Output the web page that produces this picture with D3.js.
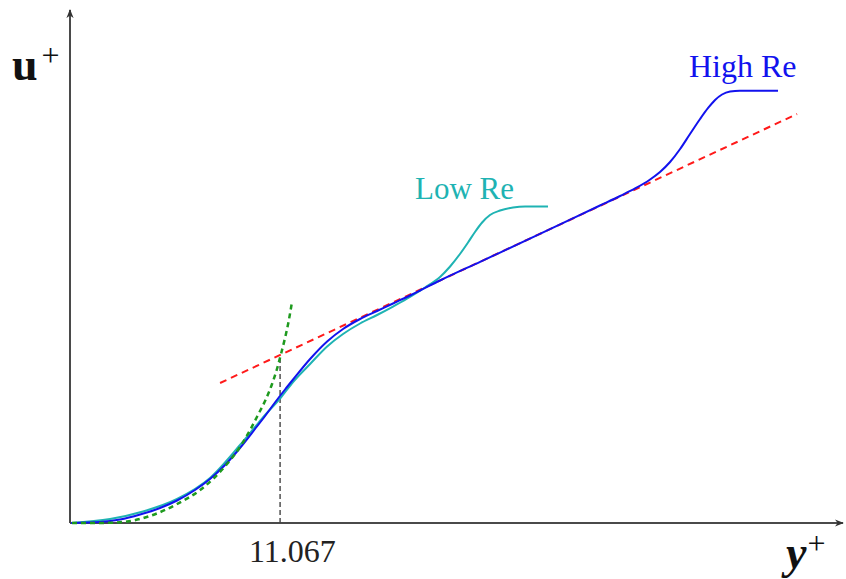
<!DOCTYPE html>
<html>
<head>
<meta charset="utf-8">
<script src="https://cdn.jsdelivr.net/npm/d3@7"></script>
<style>
  html, body { margin: 0; padding: 0; background: #fff; }
  svg { display: block; }
  text { font-family: "Liberation Serif", "DejaVu Serif", serif; }
</style>
</head>
<body>
<svg id="chart" width="846" height="579"></svg>
<script>
// ---- data: x = log10(y+), y = u+ ----
const xDomain = [-0.104, 4.131];
const yDomain = [0, 33.75];

const highRe = [
  [-0.098, 0], [0.060, 0.066], [0.169, 0.230], [0.279, 0.559], [0.388, 0.987],
  [0.481, 1.480], [0.579, 2.171], [0.661, 2.895], [0.743, 3.816], [0.825, 4.934],
  [0.907, 6.184], [0.962, 7.039], [1.016, 7.928], [1.071, 8.783], [1.115, 9.441],
  [1.208, 10.789], [1.301, 11.941], [1.388, 12.763], [1.481, 13.421], [1.574, 13.947],
  [1.661, 14.441], [1.754, 14.967], [1.809, 15.296], [1.918, 15.954], [2.137, 17.184],
  [2.464, 19.020], [2.792, 20.888], [2.902, 21.513], [2.984, 22.007], [3.066, 22.599],
  [3.120, 23.092], [3.175, 23.750], [3.230, 24.605], [3.284, 25.592], [3.339, 26.579],
  [3.383, 27.303], [3.421, 27.829], [3.459, 28.191], [3.503, 28.388], [3.557, 28.441],
  [3.765, 28.441]
];

const lowRe = [
  [-0.098, 0], [0.115, 0.263], [0.295, 0.757], [0.481, 1.579], [0.661, 2.961],
  [0.825, 5.132], [0.907, 6.316], [0.962, 7.105], [1.044, 8.191], [1.115, 9.276],
  [1.208, 10.461], [1.301, 11.612], [1.388, 12.434], [1.481, 13.125], [1.574, 13.684],
  [1.661, 14.243], [1.754, 14.868], [1.836, 15.493], [1.918, 16.184], [1.973, 16.875],
  [2.027, 17.697], [2.071, 18.454], [2.109, 19.145], [2.148, 19.770], [2.191, 20.263],
  [2.246, 20.559], [2.317, 20.757], [2.383, 20.822], [2.508, 20.822]
];

// viscous sublayer u+ = y+ (green dashed)
const linearLaw = [
  [-0.093, 0], [0.060, 0], [0.208, 0.099], [0.333, 0.461], [0.481, 1.250],
  [0.607, 2.171], [0.754, 3.882], [0.825, 5.0], [0.880, 6.118], [0.923, 7.105],
  [0.967, 8.158], [1.000, 9.145], [1.027, 10.132], [1.049, 11.118], [1.071, 12.171],
  [1.090, 13.224], [1.109, 14.539]
];

// log law (red dashed)
const logLaw = [[0.716, 9.211], [3.869, 26.908]];

const yPlusMark = 11.067;
const yPlusMarkU = 11.0;

const labels = { low: "Low Re", high: "High Re", mark: "11.067" };

// ---- drawing ----
const svg = d3.select("#chart");
const x = d3.scaleLinear().domain(xDomain).range([70, 845]);
const y = d3.scaleLinear().domain(yDomain).range([523, 10]);

const defs = svg.append("defs");
defs.append("marker")
  .attr("id", "arrow")
  .attr("viewBox", "0 0 10 10")
  .attr("refX", 9).attr("refY", 5)
  .attr("markerWidth", 4.5).attr("markerHeight", 4.5)
  .attr("markerUnits", "strokeWidth")
  .attr("orient", "auto")
  .append("path")
  .attr("d", "M0,1 L10,5 L0,9 L3,5 Z")
  .attr("fill", "#333");

// axes
svg.append("line")
  .attr("x1", x(xDomain[0])).attr("y1", y(0))
  .attr("x2", x(xDomain[1]) - 2).attr("y2", y(0))
  .attr("stroke", "#4a4a4a").attr("stroke-width", 2)
  .attr("marker-end", "url(#arrow)");
svg.append("line")
  .attr("x1", x(xDomain[0])).attr("y1", y(0))
  .attr("x2", x(xDomain[0])).attr("y2", y(yDomain[1]))
  .attr("stroke", "#4a4a4a").attr("stroke-width", 2)
  .attr("marker-end", "url(#arrow)");

const line = d3.line().x(d => x(d[0])).y(d => y(d[1])).curve(d3.curveMonotoneX);
const straight = d3.line().x(d => x(d[0])).y(d => y(d[1]));

// vertical marker at 11.067
const xm = x(Math.log10(yPlusMark));
svg.append("line")
  .attr("x1", xm).attr("x2", xm)
  .attr("y1", y(0)).attr("y2", y(yPlusMarkU))
  .attr("stroke", "#444").attr("stroke-width", 1.4)
  .attr("stroke-dasharray", "5,3");

// log law red dashed
svg.append("path").datum(logLaw)
  .attr("d", straight)
  .attr("fill", "none").attr("stroke", "#ff1a1a").attr("stroke-width", 2)
  .attr("stroke-dasharray", "7,5");

// low Re (cyan)
svg.append("path").datum(lowRe)
  .attr("d", line)
  .attr("fill", "none").attr("stroke", "#1fb3b3").attr("stroke-width", 2);

// high Re (blue)
svg.append("path").datum(highRe)
  .attr("d", line)
  .attr("fill", "none").attr("stroke", "#1212ee").attr("stroke-width", 2);

// linear law green dashed
svg.append("path").datum(linearLaw)
  .attr("d", line)
  .attr("fill", "none").attr("stroke", "#1e9a1e").attr("stroke-width", 2.5)
  .attr("stroke-dasharray", "5,4");

// labels
svg.append("text").attr("x", 415).attr("y", 199)
  .attr("font-size", 31).attr("fill", "#1fb3b3").text(labels.low);
svg.append("text").attr("x", 689).attr("y", 77)
  .attr("font-size", 32).attr("fill", "#1212ee").text(labels.high);
svg.append("text").attr("x", 249).attr("y", 562)
  .attr("font-size", 32).attr("fill", "#222").text(labels.mark);

// axis titles
const ut = svg.append("text").attr("x", 12).attr("y", 80).attr("fill", "#111");
ut.append("tspan").attr("font-size", 46).attr("font-weight", "bold").text("u");
ut.append("tspan").attr("font-size", 32).attr("dx", 4).attr("dy", -14).text("+");

const yt = svg.append("text").attr("x", 786).attr("y", 568).attr("fill", "#111");
yt.append("tspan").attr("font-size", 46).attr("font-weight", "bold").attr("font-style", "italic").text("y");
yt.append("tspan").attr("font-size", 32).attr("dx", 1).attr("dy", -14).text("+");
</script>
</body>
</html>
